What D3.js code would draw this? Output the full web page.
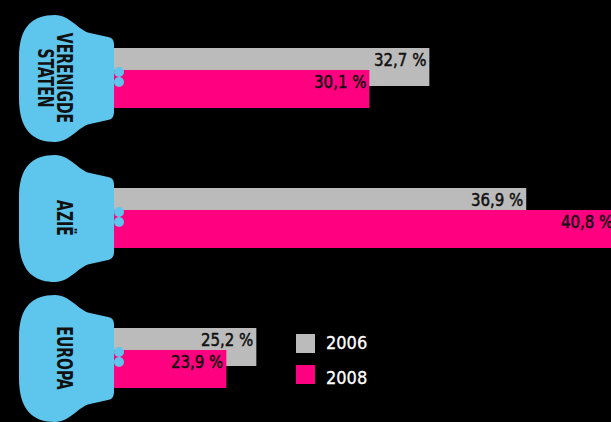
<!DOCTYPE html>
<html>
<head>
<meta charset="utf-8">
<script src="https://cdn.jsdelivr.net/npm/d3@7"></script>
<style>
  html, body { margin: 0; padding: 0; background: #000; }
  svg { display: block; }
</style>
</head>
<body>
<svg id="chart" width="611" height="422"></svg>
<script>
const categories = ["VERENIGDE STATEN", "AZIË", "EUROPA"];
const years = ["2006", "2008"];
const values2006 = [32.7, 36.9, 25.2];
const values2008 = [30.1, 40.8, 23.9];

const W = 611, H = 422;
const colors = { "2006": "#bbbbbb", "2008": "#ff0080" };
const blobColor = "#5ec5ec";
const labelFont = "'DejaVu Sans Condensed', 'DejaVu Sans', sans-serif";

const svg = d3.select("#chart");
svg.append("rect").attr("width", W).attr("height", H).attr("fill", "#000");

const y = d3.scalePoint().domain(categories).range([78, 358]);
const x = d3.scaleLinear().domain([19.03, 40.8]).range([114, 616.2]);

const barH = 38;
const series = [
  { year: "2006", values: values2006, offset: -30 },
  { year: "2008", values: values2008, offset: -8 }
];

const fmt = v => d3.format(".1f")(v).replace(".", ",") + " %";

series.forEach(s => {
  svg.append("g").selectAll("rect").data(categories).join("rect")
    .attr("x", x.range()[0])
    .attr("y", d => y(d) + s.offset)
    .attr("width", (d, i) => x(s.values[i]) - x.range()[0])
    .attr("height", barH)
    .attr("fill", colors[s.year]);
});

// value labels
series.forEach(s => {
  svg.append("g").selectAll("text").data(categories).join("text")
    .attr("transform", (d, i) => `translate(${x(s.values[i]) - 3},${y(d) + s.offset + 17.7}) scale(0.9,1)`)
    .attr("text-anchor", "end")
    .attr("font-family", labelFont)
    .attr("font-size", 18.5)
    .attr("fill", "#111")
    .attr("stroke", "#111")
    .attr("stroke-width", 0.5)
    .text((d, i) => fmt(s.values[i]));
});

// blobs
function blobPath(c) {
  return `M19,${c - 20}
    C19,${c - 52} 33,${c - 63} 55,${c - 63}
    C70,${c - 63} 79,${c - 47} 90,${c - 45}
    L108,${c - 41}
    Q114,${c - 40} 114,${c - 34}
    L114,${c + 34}
    Q114,${c + 41} 108,${c + 42}
    L90,${c + 46}
    C79,${c + 48} 70,${c + 64} 55,${c + 64}
    C33,${c + 64} 19,${c + 52} 19,${c + 20} Z`;
}

const blobs = svg.append("g").selectAll("g").data(categories).join("g");
blobs.append("path")
  .attr("d", d => blobPath(y(d)))
  .attr("fill", blobColor);
blobs.append("circle").attr("cx", 119).attr("cy", d => y(d) - 6).attr("r", 5).attr("fill", blobColor);
blobs.append("circle").attr("cx", 119).attr("cy", d => y(d) + 4).attr("r", 5).attr("fill", blobColor);

blobs.each(function (d) {
  const lines = d.split(" ");
  const g = d3.select(this);
  const baseX = lines.length === 1 ? [57] : [57, 38];
  lines.forEach((ln, k) => {
    g.append("text")
      .attr("transform", `translate(${baseX[k]},${y(d)}) rotate(90) scale(0.76,1)`)
      .attr("text-anchor", "middle")
      .attr("font-family", labelFont)
      .attr("font-weight", "bold")
      .attr("font-size", 20.5)
      .attr("fill", "#111")
      .text(ln);
  });
});

// legend
const legend = svg.append("g").selectAll("g").data(years).join("g");
legend.append("rect")
  .attr("x", 296).attr("y", (d, i) => 334 + i * 31)
  .attr("width", 19).attr("height", 19).attr("fill", d => colors[d]);
legend.append("text")
  .attr("x", 326).attr("y", (d, i) => 348.5 + i * 35.5)
  .attr("font-family", labelFont)
  .attr("font-size", 18)
  .attr("fill", "#fff")
  .attr("stroke", "#fff")
  .attr("stroke-width", 0.3)
  .text(d => d);
</script>
</body>
</html>
